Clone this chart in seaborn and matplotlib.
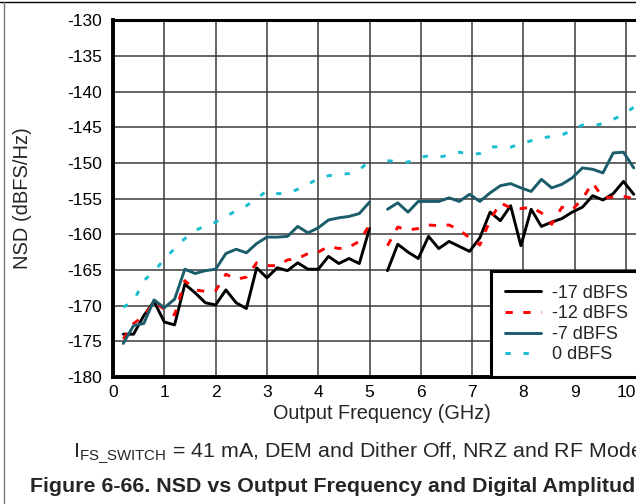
import matplotlib
matplotlib.use("Agg")
import matplotlib.pyplot as plt
from matplotlib.lines import Line2D
import pandas as pd
import seaborn as sns

sns.set_theme(style="white")
plt.rcParams["font.family"] = ["Liberation Sans", "DejaVu Sans"]
plt.rcParams["mathtext.fontset"] = "custom"
plt.rcParams["mathtext.rm"] = "Liberation Sans"
plt.rcParams["mathtext.it"] = "Liberation Sans"
plt.rcParams["axes.unicode_minus"] = False

# --- data (two sweep segments per amplitude) ---
freq_lo = [0.2, 0.4, 0.6, 0.8, 1.0, 1.2, 1.4, 1.6, 1.8, 2.0, 2.2, 2.4, 2.6,
           2.8, 3.0, 3.2, 3.4, 3.6, 3.8, 4.0, 4.2, 4.4, 4.6, 4.8, 5.0]
freq_hi = [5.35, 5.55, 5.75, 5.95, 6.15, 6.35, 6.55, 6.75, 6.95, 7.15, 7.35,
           7.55, 7.75, 7.95, 8.15, 8.35, 8.55, 8.75, 8.95, 9.15, 9.35, 9.55,
           9.75, 9.95, 10.15]

m17_lo = [-174.0, -174.0, -171.4, -169.4, -172.3, -172.7, -167.0, -168.2, -169.6,
          -169.9, -167.8, -169.6, -170.4, -164.7, -166.1, -164.7, -165.1, -164.0,
          -164.9, -164.9, -163.1, -164.1, -163.4, -164.1, -159.2]
m17_hi = [-165.1, -161.4, -162.5, -163.4, -160.3, -162.0, -161.0, -161.7, -162.4,
          -160.5, -156.9, -158.1, -156.0, -161.6, -156.5, -158.9, -158.3, -157.8,
          -156.9, -156.2, -154.6, -155.2, -154.3, -152.6, -154.4]

m12_lo = [-174.7, -172.5, -171.5, -169.5, -170.5, -171.3, -166.5, -167.8, -168.0,
          -167.9, -165.6, -166.3, -166.0, -164.0, -164.4, -164.4, -163.6, -163.4,
          -162.7, -162.5, -161.7, -162.0, -161.8, -161.0, -158.7]
m12_hi = [-161.6, -159.0, -159.4, -159.2, -158.7, -158.8, -158.7, -159.4, -160.5,
          -161.5, -158.0, -155.6, -156.3, -156.4, -156.2, -157.0, -158.6, -156.2,
          -156.6, -155.0, -152.8, -154.9, -154.8, -154.7, -155.0]

m7_lo = [-175.3, -172.8, -172.5, -169.2, -170.3, -169.1, -164.9, -165.5, -165.1,
         -164.9, -162.7, -162.1, -162.6, -161.3, -160.4, -160.4, -160.3, -158.9,
         -159.8, -159.1, -158.0, -157.7, -157.5, -157.1, -155.5]
m7_hi = [-156.5, -155.6, -156.9, -155.4, -155.4, -155.4, -154.9, -155.4, -154.4,
         -155.4, -154.2, -153.2, -152.9, -153.5, -154.0, -152.3, -153.5, -153.0,
         -152.1, -150.7, -150.9, -151.4, -148.6, -148.5, -150.7]

z0_lo = [-170.2, -169.4, -166.5, -165.2, -163.5, -162.0, -160.6, -159.5, -158.8,
         -158.3, -157.5, -156.7, -156.0, -155.0, -153.9, -154.3, -154.3, -153.7,
         -153.0, -152.2, -151.8, -151.6, -151.5, -151.0, -149.7]
z0_hi = [-149.7, -149.8, -149.9, -149.3, -149.0, -149.2, -148.9, -148.5, -148.8,
         -148.7, -147.8, -147.7, -147.8, -147.3, -146.9, -146.5, -146.3, -146.1,
         -145.4, -144.7, -144.8, -144.5, -143.9, -143.2, -142.2]

levels = ["-17 dBFS", "-12 dBFS", "-7 dBFS", "0 dBFS"]
series = {"-17 dBFS": (m17_lo, m17_hi), "-12 dBFS": (m12_lo, m12_hi),
          "-7 dBFS": (m7_lo, m7_hi), "0 dBFS": (z0_lo, z0_hi)}

rows = []
for lvl in levels:
    lo, hi = series[lvl]
    rows += [(lvl, "lo", f, v) for f, v in zip(freq_lo, lo)]
    rows += [(lvl, "hi", f, v) for f, v in zip(freq_hi, hi)]
df = pd.DataFrame(rows, columns=["level", "seg", "freq", "nsd"])
df["unit"] = df["level"] + df["seg"]

pal = {"-17 dBFS": "#000000", "-12 dBFS": "#ff0000",
       "-7 dBFS": "#1b5c6b", "0 dBFS": "#17bcd0"}
dash = {"-17 dBFS": "", "-12 dBFS": (2.5, 3.6),
        "-7 dBFS": "", "0 dBFS": (1.8, 4.4)}

fig = plt.figure(figsize=(6.36, 5.04), dpi=100)
ax = fig.add_axes([0.1777, 0.252, 0.847, 0.708])
ax.set_axisbelow(True)
sns.lineplot(data=df, x="freq", y="nsd", hue="level", style="level",
             units="unit", estimator=None, palette=pal, dashes=dash,
             hue_order=levels, style_order=levels, linewidth=2.1,
             legend=False, ax=ax)

ax.set_xlim(0, 10.5)
ax.set_ylim(-180, -130)
ax.set_xticks(range(0, 11))
ax.set_yticks(range(-180, -129, 5))
ax.tick_params(length=0, labelsize=12.5, colors="black")
ax.tick_params(axis="y", pad=8)
ax.tick_params(axis="x", pad=6)
ax.grid(True, color="#3a3a3a", linewidth=1.1)
ax.set_xlabel("Output Frequency (GHz)", fontsize=14.3, labelpad=3)
ax.set_ylabel("NSD (dBFS/Hz)", fontsize=14.5)
ax.yaxis.set_label_coords(-0.151, 0.5)
for side, lw in [("left", 2.8), ("bottom", 2.8), ("top", 2.2)]:
    ax.spines[side].set_linewidth(lw)
    ax.spines[side].set_color("black")
ax.spines["right"].set_visible(False)

handles = []
for l in levels:
    h = Line2D([], [], color=pal[l], lw=2.1)
    if dash[l]:
        h.set_dashes(dash[l])
    handles.append(h)
leg = ax.legend(handles, levels, loc="lower left", bbox_to_anchor=(0.702, 0.0),
                borderaxespad=0, fontsize=13, frameon=True, fancybox=False,
                framealpha=1, edgecolor="black", labelspacing=0.2,
                handlelength=2.0, handletextpad=0.6, borderpad=0.75)
leg.get_frame().set_linewidth(2.2)

# the source panel is cropped on the right, so these lines run off the edge
fig.text(0.115, 0.101, r"I$_{\mathrm{FS\_SWITCH}}$ = 41 mA, DEM and Dither Off, NRZ and RF Mode",
         fontsize=15.4, ha="left", va="center")
fig.text(0.047, 0.034, "Figure 6-66. NSD vs Output Frequency and Digital Amplitude",
         fontsize=15.4, fontweight="bold", ha="left", va="center")

# outer frame of the figure panel
fig.add_artist(Line2D([0.0, 1.0], [0.996, 0.996], color="black", lw=1.0,
                      transform=fig.transFigure))
fig.add_artist(Line2D([0.006, 0.006], [0.0, 0.996], color="#777777", lw=1.0,
                      transform=fig.transFigure))

fig.savefig("out.png", dpi=100)
